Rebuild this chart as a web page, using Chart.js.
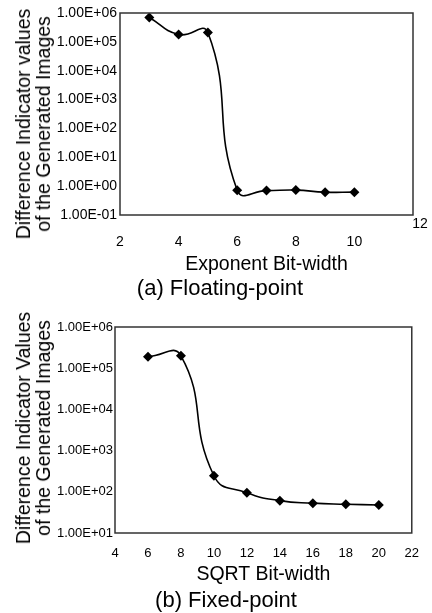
<!DOCTYPE html>
<html>
<head>
<meta charset="utf-8">
<script src="https://cdn.jsdelivr.net/npm/chart.js@4.4.1/dist/chart.umd.min.js"></script>
<style>
    body { margin: 0; background: #fff; font-family: "Liberation Sans", Arial, sans-serif; }
    #wrap { position: relative; width: 432px; height: 613px; }
    .box { position: absolute; left: 0; width: 432px; }
    .legenda { position: absolute; font-size: 22px; color: #000; white-space: nowrap; transform: translateX(-50%); line-height: 1; }
    .titulo-y { position: absolute; font-size: 19.5px; line-height: 20px; color: #000; white-space: nowrap; text-align: center;
                transform: translate(-50%, -50%) rotate(-90deg); }
</style>
</head>
<body>
<div id="wrap">
    <div class="box" style="top:0;height:276px"><canvas id="grafico-flutuante"></canvas></div>
    <div class="titulo-y" style="left:33px;top:124px">Difference Indicator values<br>of the Generated Images</div>
    <div class="legenda" style="left:220px;top:277px">(a) Floating-point</div>
    <div class="box" style="top:300px;height:286px"><canvas id="grafico-fixo"></canvas></div>
    <div class="titulo-y" style="left:33px;top:428px">Difference Indicator Values<br>of the Generated Images</div>
    <div class="legenda" style="left:226px;top:589px">(b) Fixed-point</div>
</div>
<script>
// (a) ponto flutuante
const expoenteBits = [3, 4, 5, 6, 7, 8, 9, 10];
const valoresFlutuante = [700000, 180000, 210000, 0.72, 0.70, 0.73, 0.62, 0.62];
const ticksYFlutuante = [0.1, 1, 10, 100, 1000, 10000, 100000, 1000000];
const rotulosYFlutuante = ['1.00E-01', '1.00E+00', '1.00E+01', '1.00E+02', '1.00E+03', '1.00E+04', '1.00E+05', '1.00E+06'];

// (b) ponto fixo
const sqrtBits = [6, 8, 10, 12, 14, 16, 18, 20];
const valoresFixo = [190000, 200000, 245, 95, 61, 53, 50, 48];
const ticksYFixo = [10, 100, 1000, 10000, 100000, 1000000];
const rotulosYFixo = ['1.00E+01', '1.00E+02', '1.00E+03', '1.00E+04', '1.00E+05', '1.00E+06'];

const fonte = '"Liberation Sans", Arial, sans-serif';

// moldura em volta da area do grafico
const moldura = {
    id: 'moldura',
    afterDraw(chart) {
        const a = chart.chartArea;
        const ctx = chart.ctx;
        ctx.save();
        ctx.strokeStyle = '#333';
        ctx.lineWidth = 1.5;
        ctx.strokeRect(a.left, a.top, a.right - a.left, a.bottom - a.top);
        ctx.restore();
    }
};

// o rotulo "12" do grafico (a) aparece deslocado para cima
const rotuloDoze = {
    id: 'rotuloDoze',
    afterDraw(chart, args, opts) {
        if (!opts.ativo) return;
        const x = chart.scales.x.getPixelForValue(12);
        const ctx = chart.ctx;
        ctx.save();
        ctx.font = '14px ' + fonte;
        ctx.fillStyle = '#000';
        ctx.textAlign = 'center';
        ctx.textBaseline = 'middle';
        ctx.fillText('12', x + 7, chart.chartArea.bottom + 9);
        ctx.restore();
    }
};

function criarGrafico(id, xs, ys, xMin, xMax, ticksY, rotulosY, tituloX, cfg) {
    const ctx = document.getElementById(id).getContext('2d');
    return new Chart(ctx, {
        type: 'line',
        data: {
            labels: xs,
            datasets: [{
                data: xs.map((x, i) => ({ x: x, y: ys[i] })),
                borderColor: '#000',
                backgroundColor: '#000',
                borderWidth: 1.6,
                tension: 0.5,
                pointStyle: 'rectRot',
                pointRadius: 5,
                pointBackgroundColor: '#000',
                pointBorderWidth: 0
            }]
        },
        plugins: [moldura, rotuloDoze],
        options: {
            responsive: true,
            maintainAspectRatio: false,
            animation: false,
            layout: { padding: { top: cfg.topo, right: cfg.direita, left: 0, bottom: 0 } },
            plugins: {
                legend: { display: false },
                tooltip: { enabled: false },
                rotuloDoze: { ativo: cfg.doze }
            },
            scales: {
                x: {
                    type: 'linear',
                    min: xMin,
                    max: xMax,
                    grid: { display: false, drawTicks: false },
                    border: { display: false },
                    afterFit(s) { s.height = cfg.alturaX; },
                    ticks: {
                        stepSize: 2,
                        padding: cfg.padX,
                        color: '#000',
                        font: { family: fonte, size: cfg.fonteTick },
                        callback: (v) => (cfg.doze && v === 12) ? '' : v
                    },
                    title: {
                        display: true,
                        text: tituloX,
                        color: '#000',
                        font: { family: fonte, size: 19.5 },
                        padding: { top: cfg.padTituloX, bottom: 0 }
                    }
                },
                y: {
                    type: 'logarithmic',
                    min: ticksY[0],
                    max: ticksY[ticksY.length - 1],
                    grid: { display: false, drawTicks: false },
                    border: { display: false },
                    afterFit(s) { s.width = cfg.larguraY; },
                    afterBuildTicks(s) { s.ticks = ticksY.map(v => ({ value: v })); },
                    ticks: {
                        padding: cfg.padY,
                        color: '#000',
                        font: { family: fonte, size: cfg.fonteTick },
                        callback: (v) => rotulosY[ticksY.indexOf(v)]
                    }
                }
            }
        }
    });
}

const graficoFlutuante = criarGrafico('grafico-flutuante', expoenteBits, valoresFlutuante, 2, 12,
    ticksYFlutuante, rotulosYFlutuante, 'Exponent Bit-width',
    { topo: 13, direita: 15, larguraY: 120, alturaX: 61, padX: 19, padY: 3, padTituloX: 6, fonteTick: 14, doze: true });

const graficoFixo = criarGrafico('grafico-fixo', sqrtBits, valoresFixo, 4, 22,
    ticksYFixo, rotulosYFixo, 'SQRT Bit-width',
    { topo: 27, direita: 12, larguraY: 115, alturaX: 53, padX: 13, padY: 2, padTituloX: 5, fonteTick: 13, doze: false });
</script>
</body>
</html>
